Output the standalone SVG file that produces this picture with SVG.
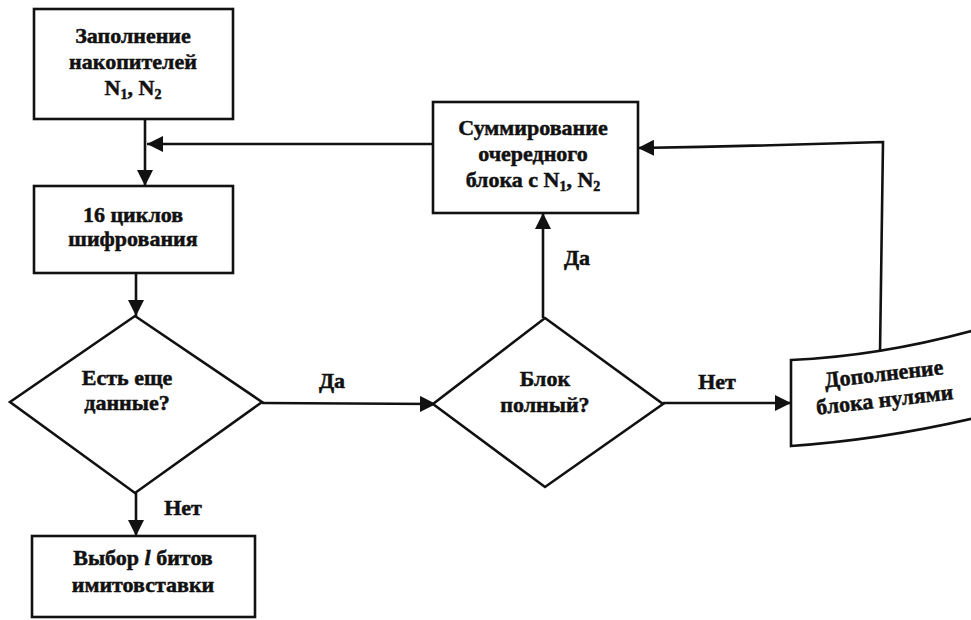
<svg xmlns="http://www.w3.org/2000/svg" width="971" height="620" viewBox="0 0 971 620">
  <style>
    .shape { fill: #ffffff; stroke: #111111; stroke-width: 2.6; stroke-linejoin: miter; }
    .edge { fill: none; stroke: #111111; stroke-width: 2.6; }
    .lbl { font-family: 'Liberation Serif', 'DejaVu Serif', serif; font-weight: bold; font-size: 22px; fill: #111111; stroke: #111111; stroke-width: 0.5; text-anchor: middle; }
    .sub { font-size: 14px; }
  </style>
  <defs>
    <marker id="arrow" viewBox="0 0 16 16" refX="16" refY="8" markerWidth="16" markerHeight="16" markerUnits="userSpaceOnUse" orient="auto">
      <path d="M0,0 L16,8 L0,16 Z" fill="#111111"/>
    </marker>
  </defs>
  <rect width="971" height="620" fill="#ffffff"/>

  <!-- connectors -->
  <g id="connectors">
    <path class="edge" d="M145,119 L145,186" marker-end="url(#arrow)"/>
    <path class="edge" d="M433,144 L147,144" marker-end="url(#arrow)"/>
    <path class="edge" d="M136,273 L136,316" marker-end="url(#arrow)"/>
    <path class="edge" d="M136,493 L136,536" marker-end="url(#arrow)"/>
    <path class="edge" d="M262,403 L436,404" marker-end="url(#arrow)"/>
    <path class="edge" d="M543,318 L543,213" marker-end="url(#arrow)"/>
    <path class="edge" d="M663,403 L791,403" marker-end="url(#arrow)"/>
    <path class="edge" d="M880,353 L883,142 Q760,146 638,148" marker-end="url(#arrow)"/>
    <text class="lbl" x="332" y="388">Да</text>
    <text class="lbl" x="577" y="265">Да</text>
    <text class="lbl" x="717" y="389">Нет</text>
    <text class="lbl" x="183" y="515">Нет</text>
  </g>

  <!-- fill accumulators -->
  <g id="fill">
    <rect class="shape" x="34" y="9" width="199" height="110"/>
    <text class="lbl" x="133" y="43">Заполнение</text>
    <text class="lbl" x="133" y="69">накопителей</text>
    <text class="lbl" x="133" y="95">N<tspan class="sub" dy="4">1</tspan><tspan dy="-4">, N</tspan><tspan class="sub" dy="4">2</tspan></text>
  </g>

  <!-- encryption rounds -->
  <g id="rounds">
    <rect class="shape" x="34" y="186" width="199" height="87"/>
    <text class="lbl" x="133" y="222">16 циклов</text>
    <text class="lbl" x="133" y="246">шифрования</text>
  </g>

  <!-- more data? -->
  <g id="more-data">
    <polygon class="shape" points="135,316 262,402 135,493 10,402"/>
    <text class="lbl" x="127" y="385">Есть еще</text>
    <text class="lbl" x="127" y="410">данные?</text>
  </g>

  <!-- select MAC bits -->
  <g id="select">
    <rect class="shape" x="32" y="536" width="223" height="81"/>
    <text class="lbl" x="143" y="565">Выбор <tspan font-style="italic">l</tspan> битов</text>
    <text class="lbl" x="143" y="592">имитовставки</text>
  </g>

  <!-- block full? -->
  <g id="block-full">
    <polygon class="shape" points="545,318 663,404 545,487 433,404"/>
    <text class="lbl" x="545" y="386">Блок</text>
    <text class="lbl" x="545" y="412">полный?</text>
  </g>

  <!-- add block to accumulators -->
  <g id="sum">
    <rect class="shape" x="433" y="102" width="205" height="111"/>
    <text class="lbl" x="533" y="135">Суммирование</text>
    <text class="lbl" x="533" y="161">очередного</text>
    <text class="lbl" x="533" y="187">блока с N<tspan class="sub" dy="4">1</tspan><tspan dy="-4">, N</tspan><tspan class="sub" dy="4">2</tspan></text>
  </g>

  <!-- zero padding (document shape) -->
  <g id="padding">
    <path class="shape" d="M791,360 Q880,356 975,330 L975,418 Q880,440 791,446 Z"/>
    <g transform="rotate(-6.5 884 394)">
      <text class="lbl" x="886" y="381">Дополнение</text>
      <text class="lbl" x="884" y="407">блока нулями</text>
    </g>
  </g>
</svg>
